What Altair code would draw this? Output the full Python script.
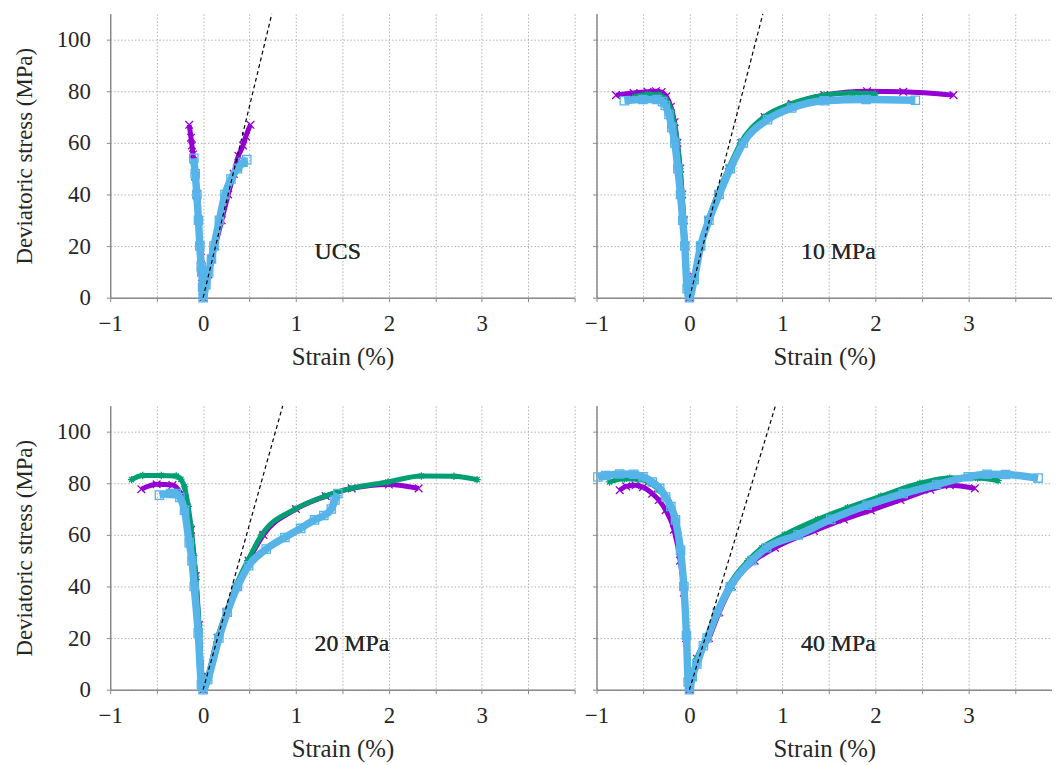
import altair as alt
import pandas as pd

PANELS = ["UCS", "10 MPa", "20 MPa", "40 MPa"]
SERIES = ["Specimen 1", "Specimen 2", "Specimen 3"]
COLORS = ["#9400D3", "#009E73", "#56B4E9"]
SHAPES = [
    "M-1,-1L1,1M1,-1L-1,1",
    "M-1,0L1,0M0,-1L0,1M-0.7,-0.7L0.7,0.7M0.7,-0.7L-0.7,0.7",
    "square",
]

# strain (%) and deviatoric stress (MPa); negative strain = lateral branch
UCS_1_STRAIN = [-0.15, -0.13, -0.12, -0.11, -0.085, -0.067, -0.05, -0.035, -0.025, -0.012, 0,
                0.03, 0.057, 0.09, 0.13, 0.20, 0.27, 0.33, 0.38, 0.43, 0.46, 0.51]
UCS_1_STRESS = [67, 62, 59, 55.5, 47, 40, 30, 20, 15.5, 8, 0,
                5, 9, 15, 20, 30, 40, 48, 55, 59, 62.5, 67]
UCS_2_STRAIN = [-0.10, -0.085, -0.067, -0.05, -0.035, -0.02, -0.008, 0,
                0.03, 0.06, 0.09, 0.12, 0.18, 0.24, 0.31, 0.38, 0.44]
UCS_2_STRESS = [52, 46, 38, 29, 20, 11, 5, 0,
                5, 10, 15, 20, 30, 40, 46, 50, 52]
UCS_3_STRAIN = [-0.10, -0.085, -0.067, -0.05, -0.035, -0.02, -0.015, -0.005, 0,
                0.03, 0.06, 0.09, 0.117, 0.175, 0.235, 0.30, 0.37, 0.43, 0.47]
UCS_3_STRESS = [54, 48, 40, 30, 20, 12, 10, 4, 0,
                5, 10, 15, 20, 30, 40, 46, 50, 52.5, 53.5]

P10_1_STRAIN = [-0.79, -0.6, -0.45, -0.36, -0.30, -0.25, -0.2, -0.16, -0.13, -0.10, -0.078, -0.06, -0.043, -0.025, 0,
                0.05, 0.117, 0.2, 0.31, 0.43, 0.56, 0.81, 1.10, 1.45, 1.91, 2.3, 2.84]
P10_1_STRESS = [78.5, 79.3, 79.8, 80, 79.7, 78, 74, 68, 60, 50, 40, 30, 20, 7, 0,
                8, 20, 30, 40, 50, 60, 70, 75, 78.5, 80, 79.8, 78.5]
P10_2_STRAIN = [-0.59, -0.45, -0.33, -0.26, -0.2, -0.16, -0.13, -0.10, -0.08, -0.045, -0.025, 0,
                0.05, 0.115, 0.2, 0.30, 0.42, 0.55, 0.80, 1.08, 1.45, 1.75, 2.0]
P10_2_STRESS = [77.8, 78.8, 78.6, 77, 73, 67, 60, 50, 40, 20, 6, 0,
                8, 20, 30, 40, 50, 60, 70, 75, 78.5, 79.3, 79]
P10_3_STRAIN = [-0.7, -0.5, -0.35, -0.29, -0.26, -0.22, -0.19, -0.157, -0.125, -0.096, -0.072, -0.05, -0.025, 0,
                0.05, 0.12, 0.21, 0.32, 0.44, 0.58, 0.84, 1.1, 1.45, 1.9, 2.43]
P10_3_STRESS = [76.3, 76.8, 76.8, 76, 74.5, 71, 66, 60, 50, 40, 30, 20, 3.5, 0,
                7, 20, 30, 40, 50, 60, 69, 73.5, 76.3, 76.8, 76.5]

P20_1_STRAIN = [-0.665, -0.5, -0.33, -0.24, -0.18, -0.13, -0.08, -0.045, -0.015, 0,
                0.05, 0.155, 0.25, 0.36, 0.49, 0.65, 1.0, 1.32, 1.6, 2.0, 2.32]
P20_1_STRESS = [77.7, 79.6, 79.3, 76, 71, 62, 44, 25, 5, 0,
                5, 20, 30, 40, 50, 60, 70, 75, 78, 79.5, 78]
P20_2_STRAIN = [-0.77, -0.65, -0.45, -0.29, -0.24, -0.2, -0.16, -0.13, -0.10, -0.078, -0.043, -0.014, 0,
                0.05, 0.153, 0.25, 0.35, 0.48, 0.63, 0.99, 1.31, 1.59, 1.99, 2.35, 2.7, 2.95]
P20_2_STRESS = [81.4, 83, 83, 82.8, 81.5, 78.6, 71, 63, 52, 44, 25, 5.5, 0,
                5, 20, 30, 40, 50, 60, 70, 75, 78, 80.5, 82.8, 82.7, 81.4]
P20_3_STRAIN = [-0.47, -0.35, -0.29, -0.25, -0.2, -0.15, -0.12, -0.096, -0.053, -0.018, 0,
                0.05, 0.17, 0.26, 0.37, 0.49, 0.68, 0.88, 1.05, 1.2, 1.3, 1.38, 1.42, 1.45]
P20_3_STRESS = [75.4, 76, 76, 74.5, 69.6, 57, 50, 40, 22, 2, 0,
                4, 20, 30, 40, 48, 54.5, 59, 62.5, 65.8, 67.5, 70, 73.5, 76]

P40_1_STRAIN = [-0.75, -0.68, -0.58, -0.5, -0.40, -0.33, -0.256, -0.167, -0.10, -0.06, -0.035, -0.015, 0,
                0.03, 0.08, 0.21, 0.32, 0.455, 0.70, 0.92, 1.34, 1.66, 1.95, 2.27, 2.59, 2.8, 3.07]
P40_1_STRESS = [77.3, 78.8, 79.2, 78.5, 76, 73.5, 69.6, 62, 50, 37.6, 20, 3, 0,
                5, 12, 20, 30, 40, 50, 55, 61.5, 66, 69.5, 73.5, 77.5, 79.2, 78]
P40_2_STRAIN = [-0.86, -0.7, -0.55, -0.42, -0.33, -0.26, -0.2, -0.15, -0.098, -0.062, -0.033, -0.015, 0,
                0.03, 0.08, 0.19, 0.30, 0.42, 0.63, 0.78, 1.02, 1.38, 1.70, 2.06, 2.48, 2.8, 3.1, 3.32]
P40_2_STRESS = [80.5, 81.7, 81.5, 80, 77.5, 74.5, 70.5, 65.5, 54, 40, 21, 3, 0,
                5, 12, 20, 30, 40, 50, 55, 60, 66, 70.5, 75, 80, 82, 82, 81]
P40_3_STRAIN = [-0.985, -0.9, -0.75, -0.6, -0.5, -0.40, -0.32, -0.256, -0.2, -0.15, -0.096, -0.06, -0.032, -0.014, 0,
                0.03, 0.08, 0.15, 0.19, 0.30, 0.44, 0.67, 0.83, 1.17, 1.52, 1.91, 2.3, 2.66, 3.0, 3.2, 3.4, 3.75]
P40_3_STRESS = [82.4, 83, 83.6, 83.5, 82.5, 80.5, 78, 74.7, 71, 65.8, 54, 40, 21, 3, 0,
                5, 10, 17, 20, 30, 40, 50, 55, 60, 66, 71.5, 76, 79.5, 82.5, 83.5, 83.4, 82]

# linear elastic reference line: from the origin to this strain at 110 MPa
ELASTIC_STRAIN_END = [0.74, 0.79, 0.857, 0.925]
ELASTIC_STRESS_END = [110, 110, 110, 110]

CURVES = {
    "UCS": [(UCS_1_STRAIN, UCS_1_STRESS), (UCS_2_STRAIN, UCS_2_STRESS), (UCS_3_STRAIN, UCS_3_STRESS)],
    "10 MPa": [(P10_1_STRAIN, P10_1_STRESS), (P10_2_STRAIN, P10_2_STRESS), (P10_3_STRAIN, P10_3_STRESS)],
    "20 MPa": [(P20_1_STRAIN, P20_1_STRESS), (P20_2_STRAIN, P20_2_STRESS), (P20_3_STRAIN, P20_3_STRESS)],
    "40 MPa": [(P40_1_STRAIN, P40_1_STRESS), (P40_2_STRAIN, P40_2_STRESS), (P40_3_STRAIN, P40_3_STRESS)],
}

FONT = "'Liberation Serif', 'DejaVu Serif', serif"
TEXT_COLOR = "#262626"
LINE_WIDTHS = [5, 5, 7.5]
POINT_SIZES = [60, 55, 70]


def panel(i, left):
    name = PANELS[i]
    xdom = [-1, 4] if left else [-1, 3.9]
    width = 468 if left else 459
    xvals = [k / 2 for k in range(-2, 9)] if left else [k / 2 for k in range(-2, 8)]
    xaxis = alt.Axis(
        values=xvals,
        labelExpr="datum.value % 1 === 0 && datum.value < 4 ? format(datum.value, 'd') : ''",
        title="Strain (%)",
    )
    if left:
        yaxis = alt.Axis(values=[0, 20, 40, 60, 80, 100], title="Deviatoric stress (MPa)")
    else:
        yaxis = alt.Axis(values=[0, 20, 40, 60, 80, 100], title=None, labels=False)
    X = alt.X("strain:Q", scale=alt.Scale(domain=xdom, nice=False, zero=False), axis=xaxis)
    Y = alt.Y("stress:Q", scale=alt.Scale(domain=[0, 110], nice=False, zero=False), axis=yaxis)

    layers = []
    for s, (strain, stress) in enumerate(CURVES[name]):
        df = pd.DataFrame({"strain": strain, "stress": stress, "idx": list(range(len(strain)))})
        layers.append(
            alt.Chart(df).mark_line(color=COLORS[s], strokeWidth=LINE_WIDTHS[s],
                                    strokeJoin="round", interpolate="monotone")
            .encode(x=X, y=Y, order="idx:Q")
        )
        layers.append(
            alt.Chart(df).mark_point(color=COLORS[s], shape=SHAPES[s], filled=False,
                                     size=POINT_SIZES[s], strokeWidth=1.3, opacity=1)
            .encode(x=X, y=Y)
        )
    el = pd.DataFrame({"strain": [0, ELASTIC_STRAIN_END[i]], "stress": [0, ELASTIC_STRESS_END[i]]})
    layers.append(
        alt.Chart(el).mark_line(color="black", strokeDash=[4, 3], strokeWidth=1.2)
        .encode(x=X, y=Y)
    )
    layers.append(
        alt.Chart(el).mark_text(align="left", baseline="alphabetic", font=FONT, fontSize=24,
                                color=TEXT_COLOR, text=name)
        .encode(x=alt.datum(1.2), y=alt.datum(15))
    )
    return alt.layer(*layers).properties(width=width, height=286)


chart = (
    alt.concat(panel(0, True), panel(1, False), panel(2, True), panel(3, False),
               columns=2, spacing={"row": 109, "column": 22}, bounds="flush")
    .properties(padding={"left": 5, "top": 0, "right": 0, "bottom": 0})
    .configure(font=FONT)
    .configure_view(stroke=None)
    .configure_axis(
        domainColor="#8a8a8a", domainWidth=1.5,
        tickColor="#8a8a8a", tickWidth=1, tickSize=4,
        gridColor="#b0b0b0", gridDash=[1.5, 2], gridWidth=1,
        labelFont=FONT, labelFontSize=23, labelColor=TEXT_COLOR, labelPadding=11,
        titleFont=FONT, titleFontSize=23, titleFontWeight="normal", titleColor=TEXT_COLOR,
    )
    .configure_axisX(titlePadding=9, labelFlush=False, titleFontSize=25)
    .configure_axisY(labelPadding=16, titlePadding=20)
)

chart.save("out.html", embed_options={"renderer": "svg", "actions": False})
